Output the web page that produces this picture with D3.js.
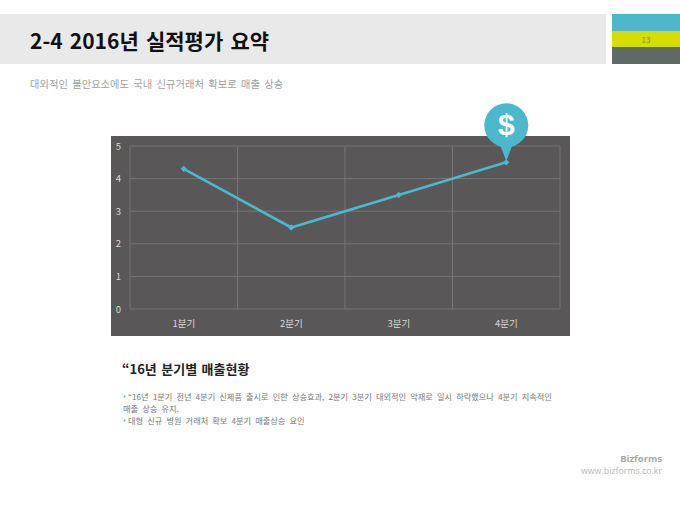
<!DOCTYPE html>
<html>
<head>
<meta charset="utf-8">
<script src="https://cdn.jsdelivr.net/npm/d3@7"></script>
<style>
  html, body { margin: 0; padding: 0; background: #fff; }
  svg { display: block; }
  text { font-family: "Noto Sans CJK KR", "Open Sans", sans-serif; }
</style>
</head>
<body>
<svg id="slide" width="680" height="510"></svg>
<script>
// chart data
var quarters = ['1분기', '2분기', '3분기', '4분기'];
var sales = [4.3, 2.5, 3.5, 4.5];
var yTicks = [0, 1, 2, 3, 4, 5];

// slide text
var titleText = '2-4 2016년 실적평가 요약';
var subtitleText = '대외적인 불안요소에도 국내 신규거래처 확보로 매출 상승';
var pageNumber = '13';
var headingText = '“16년 분기별 매출현황';
var bodyLines = [
  { bullet: true, text: '“16년 1분기 전년 4분기 신제품 출시로 인한 상승효과, 2분기 3분기 대외적인 악재로 일시 하락했으나 4분기 지속적인' },
  { bullet: false, text: '매출 상승 유지.' },
  { bullet: true, text: '대형 신규 병원 거래처 확보 4분기 매출상승 요인' }
];

var teal = '#4cb8cc';
var svg = d3.select('#slide');

// header bands
svg.append('rect').attr('x', 0).attr('y', 14).attr('width', 606).attr('height', 50).attr('fill', '#e9e9e9');
svg.append('rect').attr('x', 612).attr('y', 14).attr('width', 68).attr('height', 17).attr('fill', teal);
svg.append('rect').attr('x', 612).attr('y', 31).attr('width', 68).attr('height', 16).attr('fill', '#d9dc00');
svg.append('rect').attr('x', 612).attr('y', 47).attr('width', 68).attr('height', 17).attr('fill', '#5f6a68');

svg.append('text').attr('x', 646).attr('y', 43).attr('text-anchor', 'middle')
  .attr('font-size', 8).attr('fill', '#85853f').text(pageNumber);

svg.append('text').attr('x', 30).attr('y', 49)
  .attr('font-size', 21).attr('font-weight', 700).attr('fill', '#111')
  .attr('word-spacing', 2.5)
  .text(titleText);
svg.append('text').attr('x', 30).attr('y', 88)
  .attr('font-size', 10.3).attr('fill', '#a0a0a0')
  .attr('word-spacing', 2)
  .text(subtitleText);

// chart panel
svg.append('rect').attr('x', 111).attr('y', 136).attr('width', 459).attr('height', 200).attr('fill', '#595757');

var x = d3.scaleBand().domain(quarters).range([130, 560]);
var y = d3.scaleLinear().domain([0, 5]).range([309, 146]);

// gridlines
svg.append('g').selectAll('line').data(yTicks).join('line')
  .attr('x1', 130).attr('x2', 560)
  .attr('y1', function(d) { return y(d); })
  .attr('y2', function(d) { return y(d); })
  .attr('stroke', '#777676').attr('stroke-width', 1);

var edges = quarters.map(function(q) { return x(q); }).concat([x.range()[1]]);
svg.append('g').selectAll('line').data(edges).join('line')
  .attr('x1', function(d) { return d; })
  .attr('x2', function(d) { return d; })
  .attr('y1', y(5)).attr('y2', y(0))
  .attr('stroke', '#777676').attr('stroke-width', 1);

// axes
var yAxis = d3.axisLeft(y).tickValues(yTicks).tickFormat(d3.format('d')).tickSize(0).tickPadding(9);
var gy = svg.append('g').attr('transform', 'translate(130,0)').call(yAxis);
var xAxis = d3.axisBottom(x).tickSize(0).tickPadding(11);
var gx = svg.append('g').attr('transform', 'translate(0,' + y(0) + ')').call(xAxis);
[gy, gx].forEach(function(g) {
  g.select('.domain').remove();
  g.selectAll('text')
    .style('font-family', '"Noto Sans CJK KR", sans-serif')
    .attr('font-size', 9.5).attr('fill', '#d9d9d9');
});

// series line
var line = d3.line()
  .x(function(d, i) { return x(quarters[i]) + x.bandwidth() / 2; })
  .y(function(d) { return y(d); });

svg.append('path').datum(sales)
  .attr('d', line)
  .attr('fill', 'none')
  .attr('stroke', teal)
  .attr('stroke-width', 2.6);

svg.append('g').selectAll('path').data(sales).join('path')
  .attr('d', d3.symbol(d3.symbolSquare, 20))
  .attr('transform', function(d, i) {
    return 'translate(' + (x(quarters[i]) + x.bandwidth() / 2) + ',' + y(d) + ') rotate(45)';
  })
  .attr('fill', teal);

// dollar pin above the last point
var lastX = x(quarters[3]) + x.bandwidth() / 2;
var lastY = y(sales[3]);
var pin = svg.append('g').attr('transform', 'translate(' + lastX + ',' + lastY + ')');
pin.append('circle').attr('cx', 0).attr('cy', -37).attr('r', 22).attr('fill', teal);
pin.append('path').attr('d', 'M-6,-17 L0,-1 L6,-17 Z').attr('fill', teal);
pin.append('text').attr('x', 0).attr('y', -27).attr('text-anchor', 'middle')
  .style('font-family', '"Liberation Sans", sans-serif')
  .attr('font-size', 30).attr('font-weight', 700).attr('fill', '#fff').text('$');

// text block under the chart
svg.append('text').attr('x', 122).attr('y', 374)
  .attr('font-size', 13).attr('font-weight', 700).attr('fill', '#222')
  .attr('word-spacing', 1.5)
  .text(headingText);

var body = svg.append('g');
body.selectAll('text.line').data(bodyLines).join('text')
  .attr('class', 'line')
  .attr('x', function(d) { return d.bullet ? 128 : 123; })
  .attr('y', function(d, i) { return 399.5 + i * 12; })
  .attr('font-size', 8.2)
  .attr('word-spacing', 2.3)
  .attr('fill', '#777')
  .text(function(d) { return d.text; });
body.selectAll('circle').data(bodyLines).join('circle')
  .attr('cx', 124.5)
  .attr('cy', function(d, i) { return 396.5 + i * 12; })
  .attr('r', function(d) { return d.bullet ? 1 : 0; })
  .attr('fill', teal);

// footer
svg.append('text').attr('x', 662).attr('y', 462).attr('text-anchor', 'end')
  .style('font-family', '"Open Sans", sans-serif')
  .attr('font-size', 9.5).attr('font-weight', 700).attr('fill', '#a8a8a8').text('Bizforms');
svg.append('text').attr('x', 662).attr('y', 474).attr('text-anchor', 'end')
  .style('font-family', '"Open Sans", sans-serif')
  .attr('font-size', 8.8).attr('fill', '#b8b8b8').text('www.bizforms.co.kr');
</script>
</body>
</html>
